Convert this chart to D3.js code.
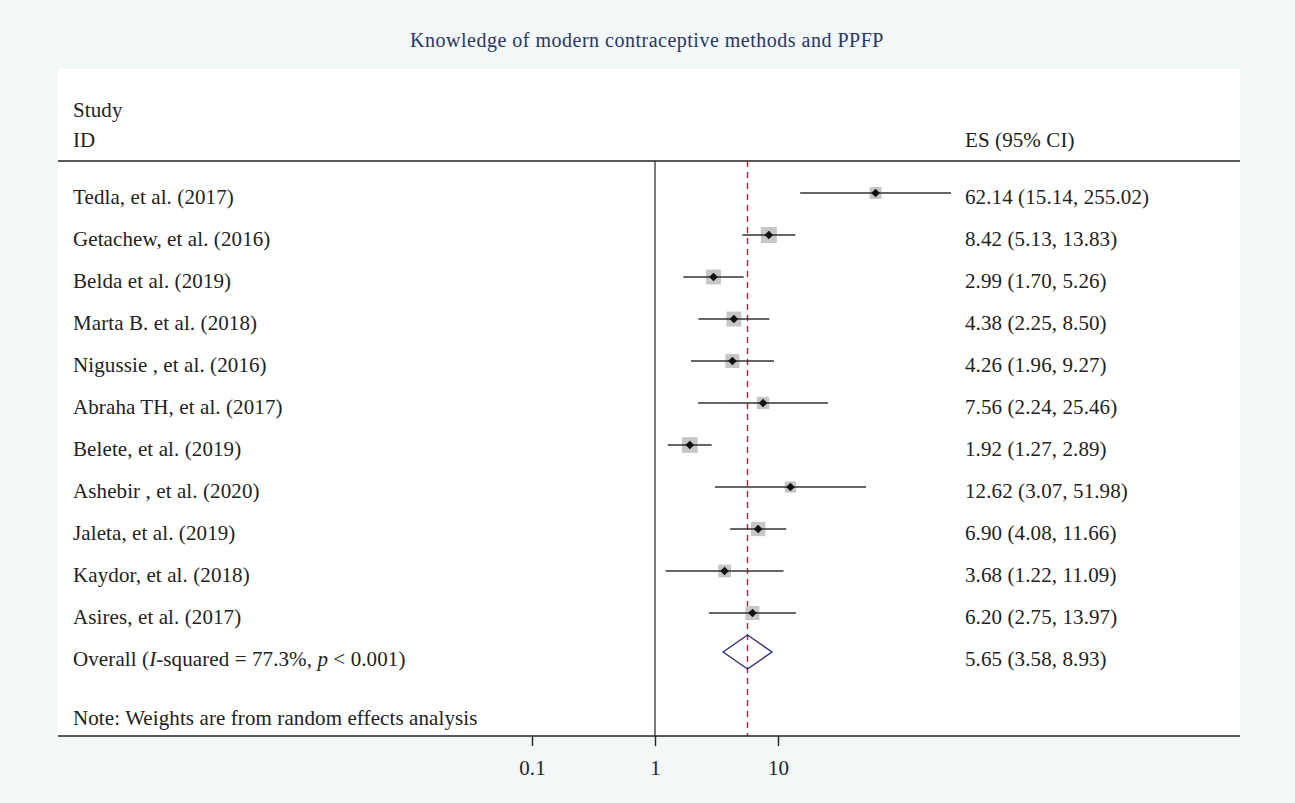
<!DOCTYPE html>
<html>
<head>
<meta charset="utf-8">
<script src="https://cdn.jsdelivr.net/npm/d3@7"></script>
<style>
  html, body { margin: 0; padding: 0; background: #f2f7f7; }
  svg text { font-family: "Liberation Serif", "DejaVu Serif", serif; fill: #222; }
</style>
</head>
<body>
<div id="chart"></div>
<script>
// Data
const studies = [
    'Tedla, et al. (2017)',
    'Getachew, et al. (2016)',
    'Belda et al. (2019)',
    'Marta B. et al. (2018)',
    'Nigussie , et al. (2016)',
    'Abraha TH, et al. (2017)',
    'Belete, et al. (2019)',
    'Ashebir , et al. (2020)',
    'Jaleta, et al. (2019)',
    'Kaydor, et al. (2018)',
    'Asires, et al. (2017)'
];
const es = [62.14, 8.42, 2.99, 4.38, 4.26, 7.56, 1.92, 12.62, 6.90, 3.68, 6.20];
const lower = [15.14, 5.13, 1.70, 2.25, 1.96, 2.24, 1.27, 3.07, 4.08, 1.22, 2.75];
const upper = [255.02, 13.83, 5.26, 8.50, 9.27, 25.46, 2.89, 51.98, 11.66, 11.09, 13.97];
// approximate random-effects weights (%), read from square sizes
const weights = [6.7, 12.0, 10.5, 10.5, 9.2, 7.1, 11.6, 6.0, 9.6, 7.6, 9.2];
const overall = { es: 5.65, lower: 3.58, upper: 8.93 };
const xTicks = [0.1, 1, 10];

// Configuration
const config = {
    width: 1295,
    height: 803,
    panel: { left: 58, right: 1240, top: 69, bottom: 736 },
    headerLine: 161,
    firstRow: 193,
    rowStep: 42,
    labelX: 73,
    esX: 965,
    fontSize: 21,
    spacing: '0.1px'
};

const svg = d3.select('#chart')
    .append('svg')
    .attr('width', config.width)
    .attr('height', config.height);

// Background + white panel
svg.append('rect')
    .attr('width', config.width)
    .attr('height', config.height)
    .attr('fill', '#f2f7f7');

svg.append('rect')
    .attr('x', config.panel.left)
    .attr('y', config.panel.top)
    .attr('width', config.panel.right - config.panel.left)
    .attr('height', config.panel.bottom - config.panel.top)
    .attr('fill', '#ffffff');

// Title
svg.append('text')
    .attr('x', 647)
    .attr('y', 47)
    .attr('text-anchor', 'middle')
    .style('font-size', '20px')
    .style('letter-spacing', '0.5px')
    .style('fill', '#2b3566')
    .text('Knowledge of modern contraceptive methods and PPFP');

// Scales
const x = d3.scaleLog()
    .domain([0.1, 10])
    .range([532, 778]);

const y = d3.scaleLinear()
    .domain([0, 1])
    .range([config.firstRow, config.firstRow + config.rowStep]);

const fs = config.fontSize + 'px';
const textBase = 11;

function label(xPos, yPos, txt) {
    return svg.append('text')
        .attr('x', xPos)
        .attr('y', yPos)
        .style('font-size', fs)
        .style('letter-spacing', config.spacing)
        .text(txt);
}

// Header
label(config.labelX, 117, 'Study');
label(config.labelX, 147, 'ID');
label(config.esX, 147, 'ES (95% CI)');

svg.append('line')
    .attr('x1', config.panel.left).attr('x2', config.panel.right)
    .attr('y1', config.headerLine).attr('y2', config.headerLine)
    .attr('stroke', '#222').attr('stroke-width', 1.4);

// Reference line at 1
svg.append('line')
    .attr('x1', x(1)).attr('x2', x(1))
    .attr('y1', config.headerLine).attr('y2', config.panel.bottom)
    .attr('stroke', '#333').attr('stroke-width', 1.3);

// Overall dashed line
svg.append('line')
    .attr('x1', x(overall.es)).attr('x2', x(overall.es))
    .attr('y1', config.headerLine).attr('y2', config.panel.bottom)
    .attr('stroke', '#a3283b').attr('stroke-width', 1.4)
    .attr('stroke-dasharray', '6,5');

// Study rows
const rows = studies.map((s, i) => ({
    study: s, es: es[i], lo: lower[i], hi: upper[i], w: weights[i], i
}));

const size = d3.scaleSqrt().domain([0, 12]).range([0, 16]);
const fmt = d3.format('.2f');

const g = svg.append('g').selectAll('g')
    .data(rows)
    .enter()
    .append('g');

g.append('rect')
    .attr('x', d => x(d.es) - size(d.w) / 2)
    .attr('y', d => y(d.i) - size(d.w) / 2)
    .attr('width', d => size(d.w))
    .attr('height', d => size(d.w))
    .attr('fill', '#c6c6c6');

g.append('line')
    .attr('x1', d => x(d.lo)).attr('x2', d => x(d.hi))
    .attr('y1', d => y(d.i)).attr('y2', d => y(d.i))
    .attr('stroke', '#333').attr('stroke-width', 1.4);

g.append('path')
    .attr('transform', d => `translate(${x(d.es)},${y(d.i)})`)
    .attr('d', d3.symbol().type(d3.symbolDiamond2).size(48))
    .attr('fill', '#111');

g.append('text')
    .attr('x', config.labelX)
    .attr('y', d => y(d.i) + textBase)
    .style('font-size', fs)
    .style('letter-spacing', config.spacing)
    .text(d => d.study);

g.append('text')
    .attr('x', config.esX)
    .attr('y', d => y(d.i) + textBase)
    .style('font-size', fs)
    .style('letter-spacing', config.spacing)
    .text(d => `${fmt(d.es)} (${fmt(d.lo)}, ${fmt(d.hi)})`);

// Overall row
const oy = y(studies.length) - 3;
svg.append('path')
    .attr('d', `M${x(overall.lower)},${oy} L${x(overall.es)},${oy - 17} L${x(overall.upper)},${oy} L${x(overall.es)},${oy + 17} Z`)
    .attr('fill', 'none')
    .attr('stroke', '#2e2e7e')
    .attr('stroke-width', 1.4);

const ot = label(config.labelX, y(studies.length) + textBase, null);
ot.append('tspan').text('Overall (');
ot.append('tspan').style('font-style', 'italic').text('I');
ot.append('tspan').text('-squared = 77.3%, ');
ot.append('tspan').style('font-style', 'italic').text('p');
ot.append('tspan').text(' < 0.001)');

label(config.esX, y(studies.length) + textBase,
    `${fmt(overall.es)} (${fmt(overall.lower)}, ${fmt(overall.upper)})`);

// Note
label(config.labelX, 725, 'Note: Weights are from random effects analysis');

// X axis
const xAxis = d3.axisBottom(x)
    .tickValues(xTicks)
    .tickFormat(d => String(d))
    .tickSize(10)
    .tickPadding(14);

const ax = svg.append('g')
    .attr('transform', `translate(0,${config.panel.bottom})`)
    .call(xAxis);

ax.select('.domain').remove();
ax.selectAll('.tick line').attr('stroke', '#222').attr('stroke-width', 1.4);
ax.selectAll('.tick text')
    .style('font-family', '"Liberation Serif", serif')
    .style('font-size', '21px')
    .style('letter-spacing', config.spacing)
    .attr('fill', '#222');

svg.append('line')
    .attr('x1', config.panel.left).attr('x2', config.panel.right)
    .attr('y1', config.panel.bottom).attr('y2', config.panel.bottom)
    .attr('stroke', '#222').attr('stroke-width', 1.4);
</script>
</body>
</html>
